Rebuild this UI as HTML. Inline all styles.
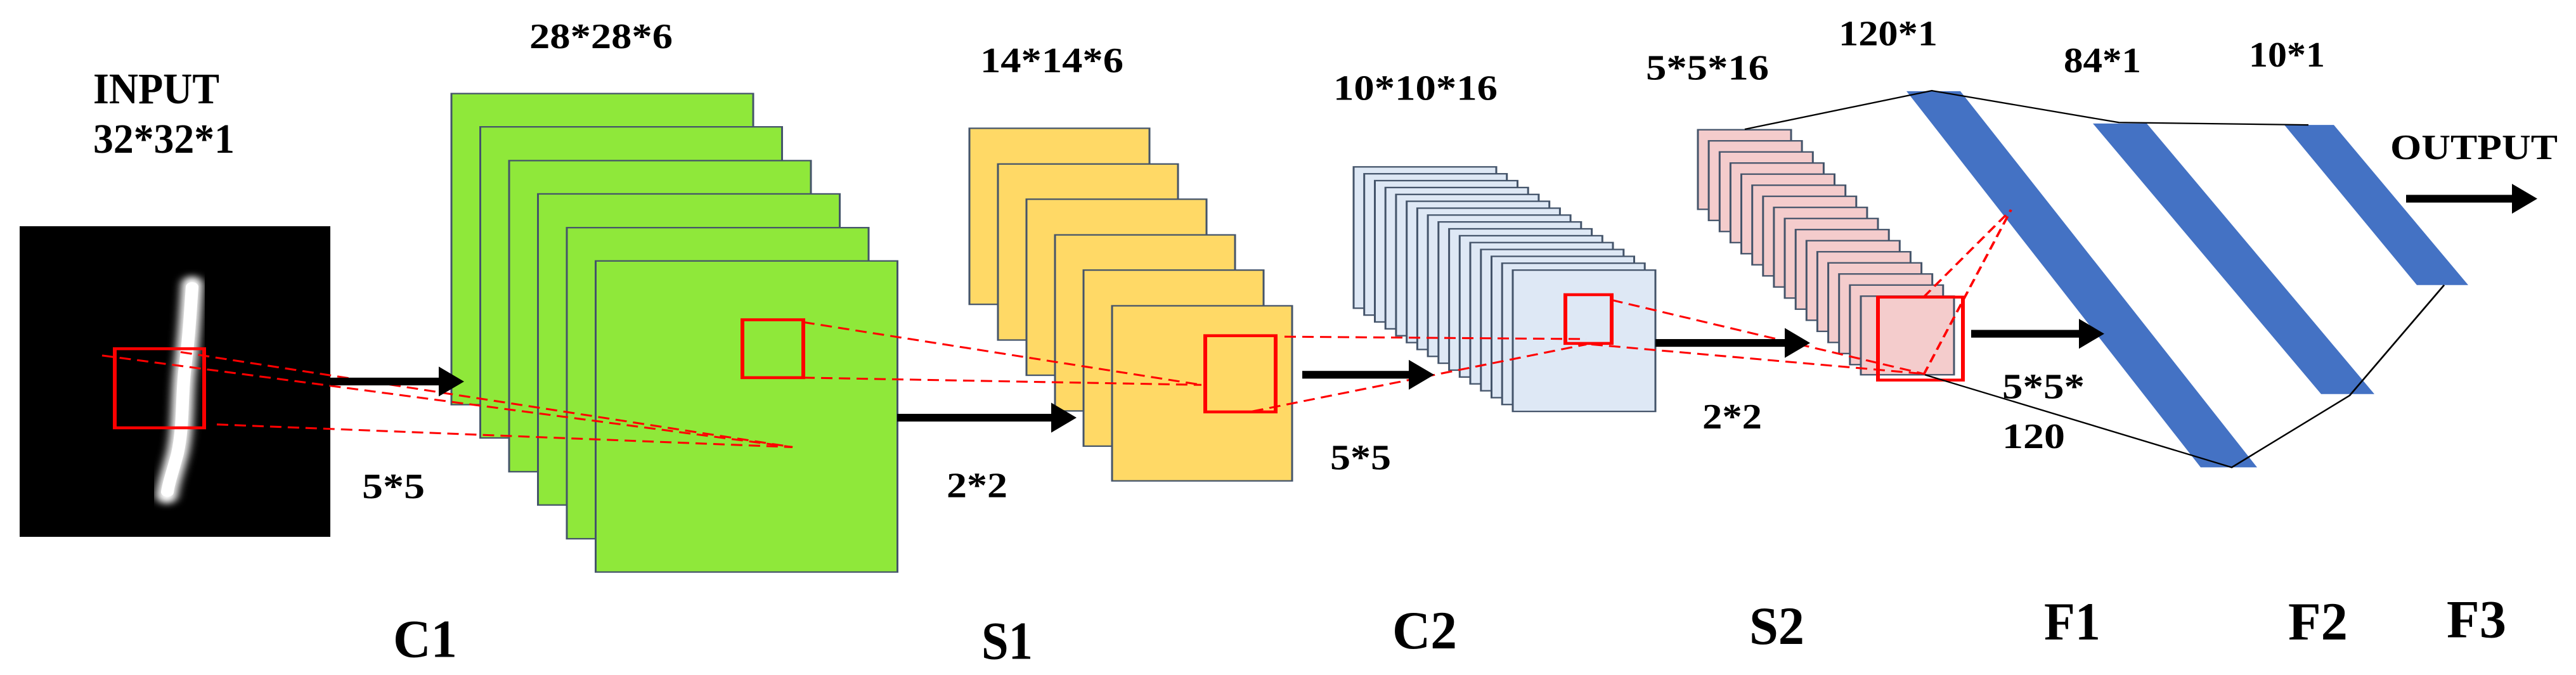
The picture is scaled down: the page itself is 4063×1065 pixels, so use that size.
<!DOCTYPE html>
<html><head><meta charset="utf-8"><style>html,body{margin:0;padding:0;background:#fff;overflow:hidden}svg{display:block}text{font-family:"Liberation Serif","Times New Roman",serif;font-weight:bold}</style></head><body>
<svg width="4063" height="1065" viewBox="0 0 4063 1065" xmlns="http://www.w3.org/2000/svg">
<defs><filter id="bl" x="-50%" y="-20%" width="200%" height="140%"><feGaussianBlur stdDeviation="7"/></filter></defs>
<g transform="scale(1,0.761)">
<g font-family="'Liberation Serif', serif" font-weight="bold" fill="#000">
<text x="147" y="214" font-size="90" textLength="199" lengthAdjust="spacingAndGlyphs">INPUT</text>
<text x="147" y="317" font-size="86" textLength="223" lengthAdjust="spacingAndGlyphs">32*32*1</text>
<text x="835" y="100" font-size="74" textLength="226" lengthAdjust="spacingAndGlyphs">28*28*6</text>
<text x="1546" y="150" font-size="74" textLength="226" lengthAdjust="spacingAndGlyphs">14*14*6</text>
<text x="2103" y="207" font-size="74" textLength="259" lengthAdjust="spacingAndGlyphs">10*10*16</text>
<text x="2596" y="165" font-size="74" textLength="194" lengthAdjust="spacingAndGlyphs">5*5*16</text>
<text x="2900" y="94" font-size="74" textLength="156" lengthAdjust="spacingAndGlyphs">120*1</text>
<text x="3255" y="150" font-size="74" textLength="122" lengthAdjust="spacingAndGlyphs">84*1</text>
<text x="3547" y="138" font-size="74" textLength="120" lengthAdjust="spacingAndGlyphs">10*1</text>
<text x="3770" y="330" font-size="74" textLength="264" lengthAdjust="spacingAndGlyphs">OUTPUT</text>
<text x="571" y="1033" font-size="74" textLength="99" lengthAdjust="spacingAndGlyphs">5*5</text>
<text x="1493" y="1031" font-size="74" textLength="96" lengthAdjust="spacingAndGlyphs">2*2</text>
<text x="2098" y="973" font-size="74" textLength="96" lengthAdjust="spacingAndGlyphs">5*5</text>
<text x="2685" y="888" font-size="74" textLength="94" lengthAdjust="spacingAndGlyphs">2*2</text>
<text x="3158" y="826" font-size="74" textLength="130" lengthAdjust="spacingAndGlyphs">5*5*</text>
<text x="3158" y="929" font-size="74" textLength="99" lengthAdjust="spacingAndGlyphs">120</text>
<text x="620" y="1362" font-size="112" textLength="101" lengthAdjust="spacingAndGlyphs">C1</text>
<text x="1548" y="1366" font-size="112" textLength="81" lengthAdjust="spacingAndGlyphs">S1</text>
<text x="2196" y="1344" font-size="112" textLength="102" lengthAdjust="spacingAndGlyphs">C2</text>
<text x="2759" y="1335" font-size="112" textLength="87" lengthAdjust="spacingAndGlyphs">S2</text>
<text x="3224" y="1326" font-size="112" textLength="89" lengthAdjust="spacingAndGlyphs">F1</text>
<text x="3609" y="1326" font-size="112" textLength="94" lengthAdjust="spacingAndGlyphs">F2</text>
<text x="3859" y="1321" font-size="112" textLength="94" lengthAdjust="spacingAndGlyphs">F3</text>
</g>
<rect x="31" y="469" width="490" height="644" fill="#000"/>
<path d="M303 590 C300 650 298 700 292 760 C286 820 290 880 280 940 C272 980 266 1000 263 1027" stroke="#fff" stroke-width="34" stroke-linecap="round" fill="none" filter="url(#bl)"/>
<path d="M303 595 C300 650 298 700 292 760 C286 820 290 880 280 940 C272 980 266 1000 264 1020" stroke="#fff" stroke-width="20" stroke-linecap="round" fill="none"/>
<rect x="181" y="723" width="141" height="164" fill="none" stroke="#f00" stroke-width="6"/>
<g fill="#8fe83a" stroke="#44546a" stroke-width="3">
<rect x="712" y="194" width="476" height="645"/><rect x="757.5" y="263" width="476" height="645"/><rect x="803" y="333" width="476" height="645"/><rect x="848.5" y="402" width="476" height="645"/><rect x="894" y="472" width="476" height="645"/><rect x="939.5" y="541" width="476" height="645"/>
</g>
<rect x="1171" y="663" width="96" height="120" fill="none" stroke="#f00" stroke-width="6"/>
<g fill="#ffd966" stroke="#44546a" stroke-width="3">
<rect x="1529" y="266" width="284" height="365"/><rect x="1574" y="340" width="284" height="365"/><rect x="1619" y="413" width="284" height="365"/><rect x="1664" y="487" width="284" height="365"/><rect x="1709" y="560" width="284" height="365"/><rect x="1754" y="634" width="284" height="363"/>
</g>
<rect x="1901" y="696" width="111" height="158" fill="none" stroke="#f00" stroke-width="6"/>
<g fill="#dee8f5" stroke="#44546a" stroke-width="3">
<rect x="2135" y="346" width="225" height="293"/><rect x="2151.7" y="360.3" width="225" height="293"/><rect x="2168.5" y="374.5" width="225" height="293"/><rect x="2185.2" y="388.8" width="225" height="293"/><rect x="2201.9" y="403.1" width="225" height="293"/><rect x="2218.7" y="417.3" width="225" height="293"/><rect x="2235.4" y="431.6" width="225" height="293"/><rect x="2252.1" y="445.9" width="225" height="293"/><rect x="2268.8" y="460.1" width="225" height="293"/><rect x="2285.6" y="474.4" width="225" height="293"/><rect x="2302.3" y="488.7" width="225" height="293"/><rect x="2319" y="502.9" width="225" height="293"/><rect x="2335.8" y="517.2" width="225" height="293"/><rect x="2352.5" y="531.5" width="225" height="293"/><rect x="2369.2" y="545.7" width="225" height="293"/><rect x="2386" y="560" width="225" height="293"/>
</g>
<rect x="2469" y="611" width="73" height="101" fill="none" stroke="#f00" stroke-width="6"/>
<g fill="#f4cccc" stroke="#44546a" stroke-width="3">
<rect x="2678" y="269" width="147" height="165"/><rect x="2695.1" y="292" width="147" height="165"/><rect x="2712.3" y="315" width="147" height="165"/><rect x="2729.4" y="338" width="147" height="165"/><rect x="2746.5" y="361" width="147" height="165"/><rect x="2763.7" y="384" width="147" height="165"/><rect x="2780.8" y="407" width="147" height="165"/><rect x="2797.9" y="430" width="147" height="165"/><rect x="2815" y="453" width="147" height="165"/><rect x="2832.2" y="476" width="147" height="165"/><rect x="2849.3" y="499" width="147" height="165"/><rect x="2866.4" y="522" width="147" height="165"/><rect x="2883.6" y="545" width="147" height="165"/><rect x="2900.7" y="568" width="147" height="165"/><rect x="2917.8" y="591" width="147" height="165"/><rect x="2935" y="614" width="147" height="163"/>
</g>
<rect x="2962" y="616" width="134" height="172" fill="none" stroke="#f00" stroke-width="6"/>
<g fill="#4472c4">
<polygon points="3007,189 3092,189 3560,969 3471,969"/>
<polygon points="3301,256 3386,256 3745,817 3661,817"/>
<polygon points="3603,259 3681,259 3893,591 3812,591"/>
</g>
<polyline points="2752,268 3047,188 3342,254 3641,259" fill="none" stroke="#000" stroke-width="3"/>
<polyline points="3036,777 3520,969 3706,820 3855,591" fill="none" stroke="#000" stroke-width="3"/>
<g stroke="#f00" stroke-width="4" stroke-dasharray="18,10" fill="none">
<line x1="161" y1="737" x2="1250" y2="927"/>
<line x1="285" y1="730" x2="1250" y2="927"/>
<line x1="342" y1="880" x2="1250" y2="927"/>
<line x1="1267" y1="668" x2="1895" y2="798"/>
<line x1="1267" y1="783" x2="1895" y2="798"/>
<line x1="2026" y1="698" x2="2502" y2="703"/>
<line x1="1975" y1="853" x2="2502" y2="714"/>
<line x1="2542" y1="622" x2="3034" y2="775"/>
<line x1="2510" y1="714" x2="3034" y2="775"/>
<line x1="3034" y1="616" x2="3172" y2="435"/>
<line x1="3034" y1="777" x2="3172" y2="435"/>
</g>
<g fill="#000">
<rect x="521" y="783" width="172" height="16"/><polygon points="692,760 732,791 692,822"/>
<rect x="1415" y="858" width="244" height="16"/><polygon points="1658,835 1698,866 1658,897"/>
<rect x="2054" y="769" width="169" height="16"/><polygon points="2222,746 2262,777 2222,808"/>
<rect x="2611" y="703" width="205" height="16"/><polygon points="2815,680 2855,711 2815,742"/>
<rect x="3109" y="684" width="171" height="16"/><polygon points="3279,661 3319,692 3279,723"/>
<rect x="3795" y="404" width="168" height="16"/><polygon points="3962,381 4002,412 3962,443"/>
</g>
</g>
</svg>
</body></html>
